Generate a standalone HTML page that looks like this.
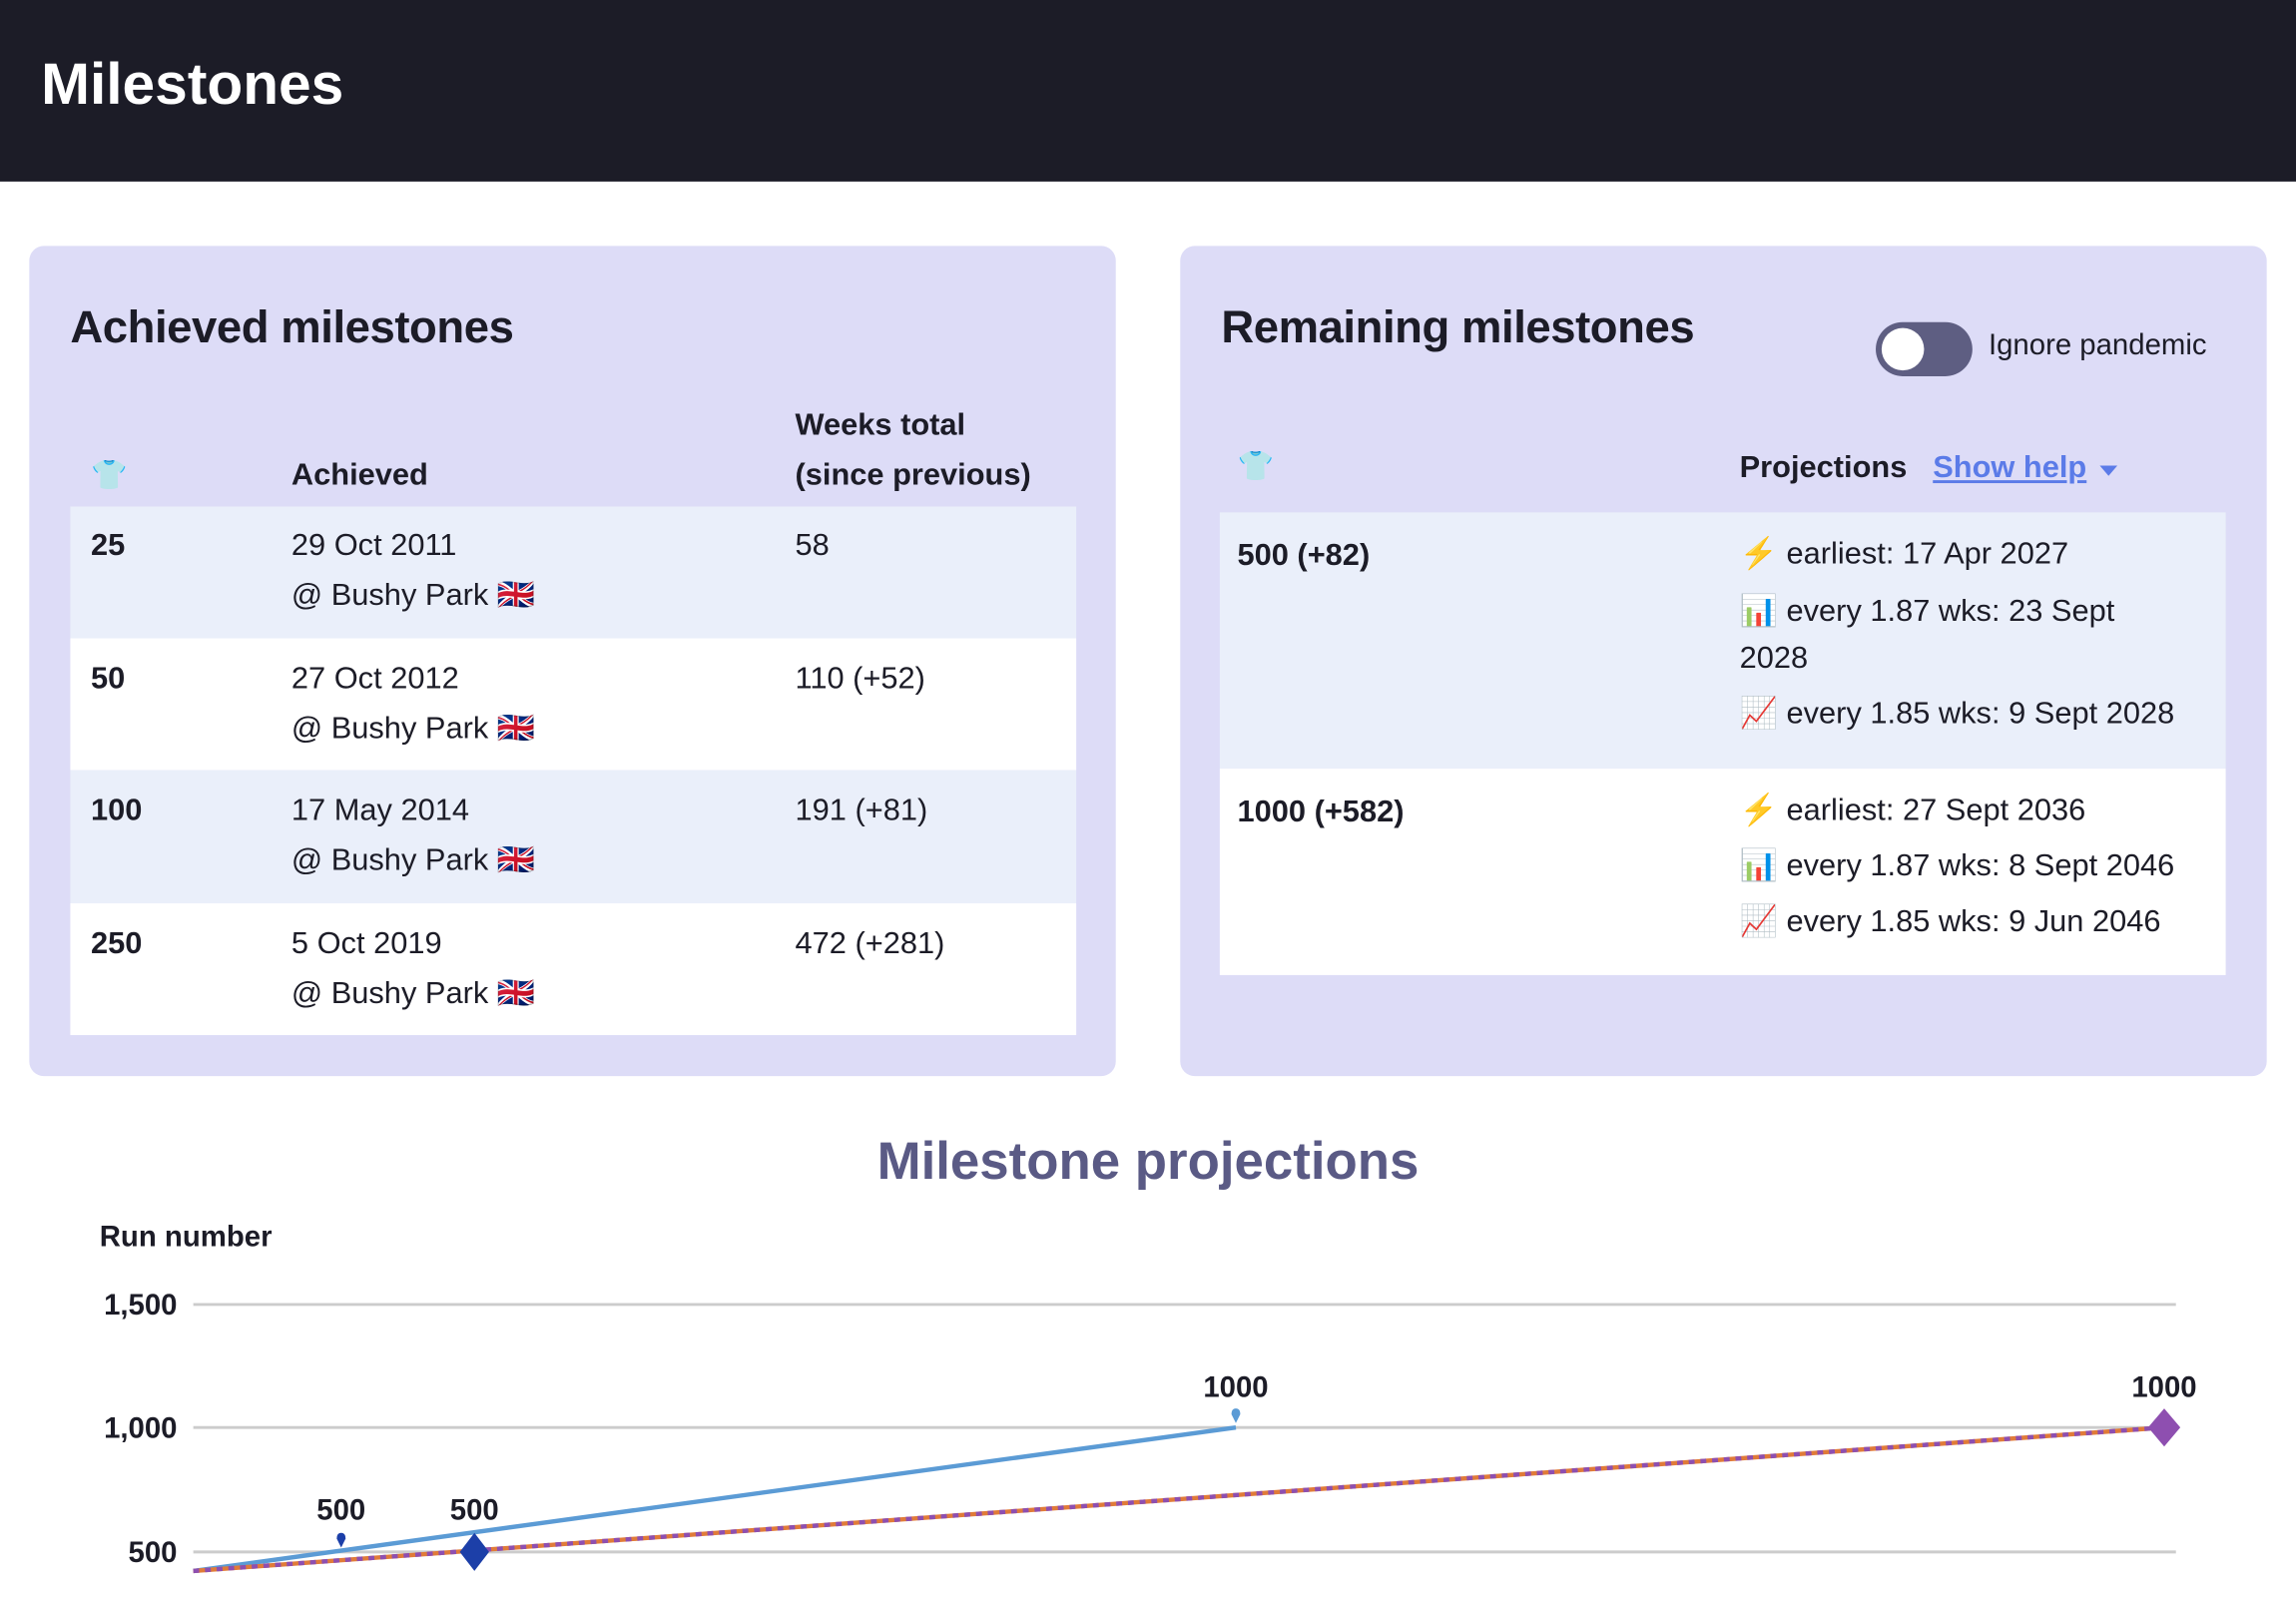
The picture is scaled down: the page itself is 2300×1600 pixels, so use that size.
<!DOCTYPE html>
<html><head><meta charset="utf-8"><style>
html,body{margin:0;padding:0;background:#fff;width:2300px;height:1600px;overflow:hidden}
#w{position:absolute;left:0;top:0;width:1568px;height:1091px;transform:scale(1.46684);transform-origin:0 0;font-family:"Liberation Sans",sans-serif;color:#1c1c27}
.a{position:absolute;white-space:nowrap}
.hdr{position:absolute;left:0;top:0;width:1568px;height:124px;background:#1c1c27}
.panel{position:absolute;top:168px;width:742px;height:567px;background:#dddcf7;border-radius:10px}
.h2{font-size:31px;font-weight:bold;letter-spacing:-0.3px}
.th{font-size:21px;font-weight:bold}
.td{font-size:21px}
.row{position:absolute;background:#eaeffa}
.row.w{background:#fff}
</style></head><body><div id="w">
<div class="hdr"></div>
<div class="a" style="left:28px;top:36px;font-size:40px;font-weight:bold;color:#fff">Milestones</div>

<div class="panel" style="left:20px"></div>
<div class="a h2" style="left:48px;top:206px">Achieved milestones</div>
<div class="a" style="left:62px;top:312px;font-size:20px">👕</div>
<div class="a th" style="left:199px;top:313px">Achieved</div>
<div class="a th" style="left:543px;top:279px">Weeks total</div>
<div class="a th" style="left:543px;top:313px">(since previous)</div>
<div class="row" style="left:48px;top:346px;width:687px;height:90px"></div>
<div class="row w" style="left:48px;top:436px;width:687px;height:90px"></div>
<div class="row" style="left:48px;top:526px;width:687px;height:91px"></div>
<div class="row w" style="left:48px;top:617px;width:687px;height:90px"></div>

<div class="a td" style="left:62px;top:361px;font-weight:bold">25</div>
<div class="a td" style="left:199px;top:361px">29 Oct 2011</div>
<div class="a td" style="left:199px;top:395px">@ Bushy Park 🇬🇧</div>
<div class="a td" style="left:543px;top:361px">58</div>

<div class="a td" style="left:62px;top:452px;font-weight:bold">50</div>
<div class="a td" style="left:199px;top:452px">27 Oct 2012</div>
<div class="a td" style="left:199px;top:486px">@ Bushy Park 🇬🇧</div>
<div class="a td" style="left:543px;top:452px">110 (+52)</div>

<div class="a td" style="left:62px;top:542px;font-weight:bold">100</div>
<div class="a td" style="left:199px;top:542px">17 May 2014</div>
<div class="a td" style="left:199px;top:576px">@ Bushy Park 🇬🇧</div>
<div class="a td" style="left:543px;top:542px">191 (+81)</div>

<div class="a td" style="left:62px;top:633px;font-weight:bold">250</div>
<div class="a td" style="left:199px;top:633px">5 Oct 2019</div>
<div class="a td" style="left:199px;top:667px">@ Bushy Park 🇬🇧</div>
<div class="a td" style="left:543px;top:633px">472 (+281)</div>

<div class="panel" style="left:806px"></div>
<div class="a h2" style="left:834px;top:206px">Remaining milestones</div>
<div class="a" style="left:1281px;top:220px;width:66px;height:37px;border-radius:19px;background:#5e5e82"></div>
<div class="a" style="left:1285px;top:224px;width:29px;height:29px;border-radius:50%;background:#fff"></div>
<div class="a" style="left:1358px;top:225px;font-size:20px">Ignore pandemic</div>
<div class="a" style="left:845px;top:306px;font-size:20px">👕</div>
<div class="a th" style="left:1188px;top:308px">Projections</div>
<div class="a th" style="left:1320px;top:308px;color:#5b7be8;text-decoration:underline">Show help</div>
<div class="a" style="left:1434px;top:318px;width:0;height:0;border-left:6px solid transparent;border-right:6px solid transparent;border-top:7px solid #5b7be8"></div>
<div class="row" style="left:833px;top:350px;width:687px;height:175px"></div>
<div class="row w" style="left:833px;top:525px;width:687px;height:141px"></div>
<div class="a td" style="left:845px;top:368px;font-weight:bold">500 (+82)</div>
<div class="a td" style="left:1188px;top:367px"><span style="color:#f0b400">⚡</span> earliest: 17 Apr 2027</div>
<div class="a td" style="left:1188px;top:406px">📊 every 1.87 wks: 23 Sept</div>
<div class="a td" style="left:1188px;top:438px">2028</div>
<div class="a td" style="left:1188px;top:476px">📈 every 1.85 wks: 9 Sept 2028</div>
<div class="a td" style="left:845px;top:543px;font-weight:bold">1000 (+582)</div>
<div class="a td" style="left:1188px;top:542px"><span style="color:#f0b400">⚡</span> earliest: 27 Sept 2036</div>
<div class="a td" style="left:1188px;top:580px">📊 every 1.87 wks: 8 Sept 2046</div>
<div class="a td" style="left:1188px;top:618px">📈 every 1.85 wks: 9 Jun 2046</div>

<div class="a" style="left:0;width:1568px;text-align:center;top:772px;font-size:36px;font-weight:bold;color:#5a5a85">Milestone projections</div>
<div class="a" style="left:68px;top:834px;font-size:20px;font-weight:bold">Run number</div>
<svg class="a" style="left:0;top:0" width="1568" height="1091">
<g stroke="#ccc" stroke-width="2"><line x1="132" y1="891" x2="1486" y2="891"/><line x1="132" y1="975" x2="1486" y2="975"/><line x1="132" y1="1060" x2="1486" y2="1060"/></g>
<g font-family="Liberation Sans" font-weight="bold" font-size="20" fill="#1c1c27" text-anchor="end"><text x="121" y="898">1,500</text><text x="121" y="982">1,000</text><text x="121" y="1067">500</text></g>
<line x1="132" y1="1073" x2="844" y2="975" stroke="#5b9bd5" stroke-width="3"/>
<line x1="132" y1="1073" x2="1478" y2="975" stroke="#e07b39" stroke-width="3"/>
<line x1="132" y1="1073" x2="1478" y2="975" stroke="#8e4fb0" stroke-width="3" stroke-dasharray="4 4"/>
<path d="M233 1047 q3 0 3 4 l-3 6 l-3 -6 q0 -4 3 -4z" fill="#1c3fa8"/>
<path d="M844 962 q3 0 3 4 l-3 6 l-3 -6 q0 -4 3 -4z" fill="#5b9bd5"/>
<path d="M324 1047 l10 13 l-10 13 l-10 -13z" fill="#1c3fa8"/>
<path d="M1478 962 l11 13 l-11 13 l-11 -13z" fill="#8e4fb0"/>
<g font-family="Liberation Sans" font-weight="bold" font-size="20" fill="#1c1c27" text-anchor="middle"><text x="233" y="1038">500</text><text x="324" y="1038">500</text><text x="844" y="954">1000</text><text x="1478" y="954">1000</text></g>
</svg>
</div></body></html>
